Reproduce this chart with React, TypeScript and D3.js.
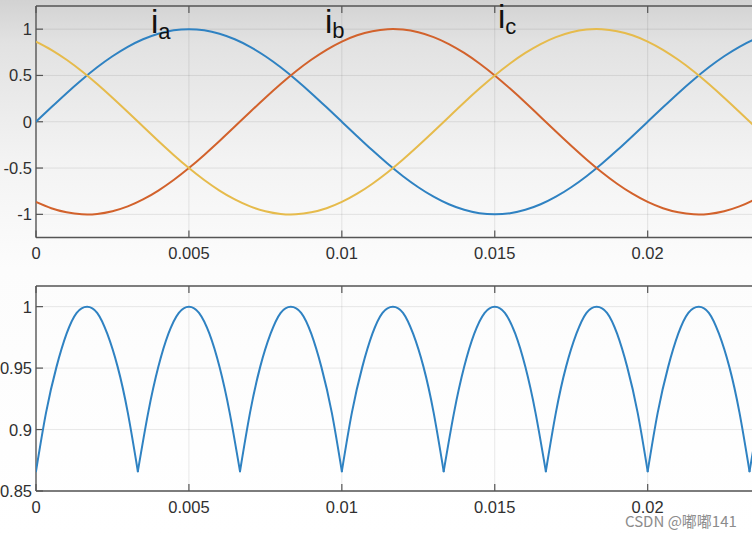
import React, { useRef, useEffect } from 'react';
import * as d3 from 'd3';

// sample times for the three phase currents (s)
const tPhase = [
  0, 0.0005, 0.001, 0.0015, 0.002, 0.0025, 0.003, 0.0035, 0.004, 0.0045,
  0.005, 0.0055, 0.006, 0.0065, 0.007, 0.0075, 0.008, 0.0085, 0.009, 0.0095,
  0.01, 0.0105, 0.011, 0.0115, 0.012, 0.0125, 0.013, 0.0135, 0.014, 0.0145,
  0.015, 0.0155, 0.016, 0.0165, 0.017, 0.0175, 0.018, 0.0185, 0.019, 0.0195,
  0.02, 0.0205, 0.021, 0.0215, 0.022, 0.0225, 0.023, 0.0235, 0.024, 0.0245, 0.025,
];

const ia = [
  0, 0.156, 0.309, 0.454, 0.588, 0.707, 0.809, 0.891, 0.951, 0.988,
  1, 0.988, 0.951, 0.891, 0.809, 0.707, 0.588, 0.454, 0.309, 0.156,
  0, -0.156, -0.309, -0.454, -0.588, -0.707, -0.809, -0.891, -0.951, -0.988,
  -1, -0.988, -0.951, -0.891, -0.809, -0.707, -0.588, -0.454, -0.309, -0.156,
  0, 0.156, 0.309, 0.454, 0.588, 0.707, 0.809, 0.891, 0.951, 0.988, 1,
];

const ib = [
  -0.866, -0.934, -0.978, -0.999, -0.995, -0.966, -0.914, -0.839, -0.743, -0.629,
  -0.5, -0.358, -0.208, -0.052, 0.105, 0.259, 0.407, 0.545, 0.669, 0.777,
  0.866, 0.934, 0.978, 0.999, 0.995, 0.966, 0.914, 0.839, 0.743, 0.629,
  0.5, 0.358, 0.208, 0.052, -0.105, -0.259, -0.407, -0.545, -0.669, -0.777,
  -0.866, -0.934, -0.978, -0.999, -0.995, -0.966, -0.914, -0.839, -0.743, -0.629, -0.5,
];

const ic = [
  0.866, 0.777, 0.669, 0.545, 0.407, 0.259, 0.105, -0.052, -0.208, -0.358,
  -0.5, -0.629, -0.743, -0.839, -0.914, -0.966, -0.995, -0.999, -0.978, -0.934,
  -0.866, -0.777, -0.669, -0.545, -0.407, -0.259, -0.105, 0.052, 0.208, 0.358,
  0.5, 0.629, 0.743, 0.839, 0.914, 0.966, 0.995, 0.999, 0.978, 0.934,
  0.866, 0.777, 0.669, 0.545, 0.407, 0.259, 0.105, -0.052, -0.208, -0.358, -0.5,
];

// sample times for the envelope (s)
const tEnv = [
  0, 0.00033, 0.00067, 0.001, 0.00133, 0.00167, 0.002, 0.00233, 0.00267, 0.003,
  0.00333, 0.00367, 0.004, 0.00433, 0.00467, 0.005, 0.00533, 0.00567, 0.006, 0.00633,
  0.00667, 0.007, 0.00733, 0.00767, 0.008, 0.00833, 0.00867, 0.009, 0.00933, 0.00967,
  0.01, 0.01033, 0.01067, 0.011, 0.01133, 0.01167, 0.012, 0.01233, 0.01267, 0.013,
  0.01333, 0.01367, 0.014, 0.01433, 0.01467, 0.015, 0.01533, 0.01567, 0.016, 0.01633,
  0.01667, 0.017, 0.01733, 0.01767, 0.018, 0.01833, 0.01867, 0.019, 0.01933, 0.01967,
  0.02, 0.02033, 0.02067, 0.021, 0.02133, 0.02167, 0.022, 0.02233, 0.02267, 0.023,
  0.02333, 0.02367, 0.024, 0.02433, 0.02467, 0.025,
];

const envelope = [
  0.866, 0.914, 0.951, 0.978, 0.995, 1, 0.995, 0.978, 0.951, 0.914,
  0.866, 0.914, 0.951, 0.978, 0.995, 1, 0.995, 0.978, 0.951, 0.914,
  0.866, 0.914, 0.951, 0.978, 0.995, 1, 0.995, 0.978, 0.951, 0.914,
  0.866, 0.914, 0.951, 0.978, 0.995, 1, 0.995, 0.978, 0.951, 0.914,
  0.866, 0.914, 0.951, 0.978, 0.995, 1, 0.995, 0.978, 0.951, 0.914,
  0.866, 0.914, 0.951, 0.978, 0.995, 1, 0.995, 0.978, 0.951, 0.914,
  0.866, 0.914, 0.951, 0.978, 0.995, 1, 0.995, 0.978, 0.951, 0.914,
  0.866, 0.914, 0.951, 0.978, 0.995, 1,
];

const xTicks = [0, 0.005, 0.01, 0.015, 0.02];
const xTickLabels = ['0', '0.005', '0.01', '0.015', '0.02'];
const yTicksTop = [1, 0.5, 0, -0.5, -1];
const yTickLabelsTop = ['1', '0.5', '0', '-0.5', '-1'];
const yTicksBottom = [1, 0.95, 0.9, 0.85];
const yTickLabelsBottom = ['1', '0.95', '0.9', '0.85'];

const phaseNames = ['a', 'b', 'c'];
const phaseColors = ['#2f82c2', '#d2622c', '#e6bb4c'];

const W = 752;
const H = 536;
const FONT = "'Liberation Sans', Arial, sans-serif";

export default function App() {
  const ref = useRef<SVGSVGElement>(null);

  useEffect(() => {
    if (!ref.current) return;
    const svg = d3.select(ref.current);
    svg.selectAll('*').remove();

    const defs = svg.append('defs');
    const grad = defs.append('linearGradient')
      .attr('id', 'bg').attr('x1', 0).attr('y1', 0).attr('x2', 0).attr('y2', 1);
    [[0, '#d2d2d2'], [0.08, '#e2e2e2'], [0.3, '#f3f3f3'], [0.5, '#fcfcfc'], [1, '#ffffff']]
      .forEach(([o, c]) => grad.append('stop').attr('offset', o as number).attr('stop-color', c as string));
    svg.append('rect').attr('width', W).attr('height', H).attr('fill', 'url(#bg)');

    const x = d3.scaleLinear().domain([0, 0.025]).range([36, 800.6]);

    const drawAxes = (
      id: string,
      y: d3.ScaleLinear<number, number>,
      yTicks: number[],
      yLabels: string[],
      labelY: number,
    ) => {
      const [yb, yt] = y.range();
      const g = svg.append('g');
      defs.append('clipPath').attr('id', id)
        .append('rect').attr('x', x(0)).attr('y', yt).attr('width', W - x(0)).attr('height', yb - yt);

      // grid
      g.selectAll('.gx').data(xTicks.slice(1)).enter().append('line')
        .attr('x1', d => x(d)).attr('x2', d => x(d)).attr('y1', yt).attr('y2', yb)
        .attr('stroke', 'rgba(0,0,0,0.09)').attr('stroke-width', 1);
      g.selectAll('.gy').data(yTicks).enter().append('line')
        .attr('x1', x(0)).attr('x2', W).attr('y1', d => y(d)).attr('y2', d => y(d))
        .attr('stroke', 'rgba(0,0,0,0.09)').attr('stroke-width', 1);

      // box lines
      const axisColor = '#555';
      g.append('line').attr('x1', x(0)).attr('x2', W).attr('y1', yb).attr('y2', yb)
        .attr('stroke', axisColor).attr('stroke-width', 1.4);
      g.append('line').attr('x1', x(0)).attr('x2', W).attr('y1', yt).attr('y2', yt)
        .attr('stroke', axisColor).attr('stroke-width', 1.4);
      g.append('line').attr('x1', x(0)).attr('x2', x(0)).attr('y1', yt).attr('y2', yb)
        .attr('stroke', axisColor).attr('stroke-width', 1.4);

      // inward ticks
      xTicks.forEach(t => {
        g.append('line').attr('x1', x(t)).attr('x2', x(t)).attr('y1', yb).attr('y2', yb - 7)
          .attr('stroke', axisColor).attr('stroke-width', 1.2);
        g.append('line').attr('x1', x(t)).attr('x2', x(t)).attr('y1', yt).attr('y2', yt + 7)
          .attr('stroke', axisColor).attr('stroke-width', 1.2);
      });
      yTicks.forEach(t => {
        g.append('line').attr('x1', x(0)).attr('x2', x(0) + 7).attr('y1', y(t)).attr('y2', y(t))
          .attr('stroke', axisColor).attr('stroke-width', 1.2);
      });

      // tick labels
      g.selectAll('.xl').data(xTicks).enter().append('text')
        .attr('x', d => x(d)).attr('y', labelY)
        .attr('text-anchor', 'middle')
        .style('font-family', FONT).style('font-size', '16.5px').attr('fill', '#303030')
        .text((_, i) => xTickLabels[i]);
      g.selectAll('.yl').data(yTicks).enter().append('text')
        .attr('x', 32).attr('y', d => y(d) + 6)
        .attr('text-anchor', 'end')
        .style('font-family', FONT).style('font-size', '16.5px').attr('fill', '#303030')
        .text((_, i) => yLabels[i]);
    };

    // top: phase currents
    const yTop = d3.scaleLinear().domain([-1.25, 1.25]).range([237.5, 6]);
    drawAxes('clipTop', yTop, yTicksTop, yTickLabelsTop, 259);

    const phaseLine = d3.line<number>()
      .x((_, i) => x(tPhase[i]))
      .y(d => yTop(d))
      .curve(d3.curveNatural);
    const topLines = svg.append('g').attr('clip-path', 'url(#clipTop)');
    [ia, ib, ic].forEach((vals, k) => {
      topLines.append('path')
        .attr('d', phaseLine(vals))
        .attr('fill', 'none')
        .attr('stroke', phaseColors[k])
        .attr('stroke-width', 2);
    });

    // phase labels
    const labelPos = [
      { x: 151, y: 33, dy: 6 },
      { x: 325, y: 33, dy: 5 },
      { x: 498, y: 28, dy: 6 },
    ];
    phaseNames.forEach((n, k) => {
      const t = svg.append('text')
        .attr('x', labelPos[k].x).attr('y', labelPos[k].y)
        .style('font-family', FONT).attr('fill', '#111');
      t.append('tspan').style('font-size', '33px').text('i');
      t.append('tspan').attr('dy', labelPos[k].dy).style('font-size', '22px').text(n);
    });

    // bottom: envelope
    const yBot = d3.scaleLinear().domain([0.85, 1.0168]).range([491, 286]);
    drawAxes('clipBot', yBot, yTicksBottom, yTickLabelsBottom, 513);

    // split envelope into arcs at the cusps (local minima)
    const arcs: [number, number][][] = [];
    let cur: [number, number][] = [];
    envelope.forEach((v, i) => {
      cur.push([tEnv[i], v]);
      const isMin = i > 0 && i < envelope.length - 1 && v <= envelope[i - 1] && v <= envelope[i + 1];
      if (isMin) {
        arcs.push(cur);
        cur = [[tEnv[i], v]];
      }
    });
    if (cur.length > 1) arcs.push(cur);

    const envLine = d3.line<[number, number]>()
      .x(d => x(d[0]))
      .y(d => yBot(d[1]))
      .curve(d3.curveNatural);
    const botLines = svg.append('g').attr('clip-path', 'url(#clipBot)');
    arcs.forEach(a => {
      botLines.append('path')
        .attr('d', envLine(a))
        .attr('fill', 'none')
        .attr('stroke', phaseColors[0])
        .attr('stroke-width', 2)
        .attr('stroke-linecap', 'round');
    });

    // watermark
    svg.append('text')
      .attr('x', 625).attr('y', 527)
      .style('font-family', "'Noto Sans CJK SC', 'Liberation Sans', sans-serif")
      .style('font-size', '15px')
      .attr('fill', '#8c8c8c')
      .text('CSDN @嘟嘟141');
  }, []);

  return (
    <div style={{ position: 'absolute', left: 0, top: 0 }}>
      <svg ref={ref} width={W} height={H} style={{ display: 'block' }} />
    </div>
  );
}
